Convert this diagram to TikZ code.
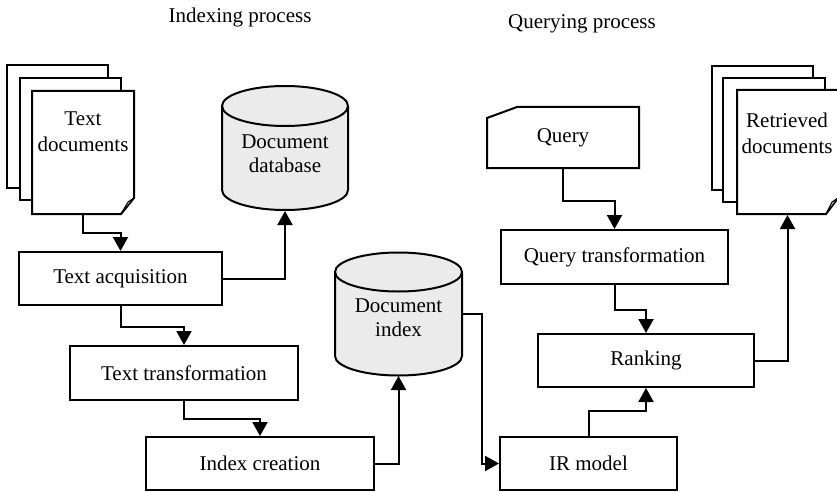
\documentclass[tikz,border=0pt]{standalone}
\usepackage{fontspec}
\setmainfont{Liberation Serif}
\usetikzlibrary{arrows.meta}
\definecolor{cylgray}{RGB}{235,235,235}
\definecolor{foldgray}{RGB}{190,190,190}
\begin{document}
\begin{tikzpicture}[x=1pt,y=-1pt,
  line width=2pt,
  every node/.style={font=\fontsize{21}{26}\selectfont},
  box/.style={draw, fill=white, rectangle, inner sep=0pt},
  ghost/.style={rectangle, inner sep=0pt},
  lbl/.style={align=center, inner sep=0pt},
  conn/.style={-{Triangle[length=14pt,width=15pt]}},
  page/.style={draw, fill=white},
  fold/.style={draw, fill=foldgray, line width=1pt, line join=round},
  cyl/.style={draw, fill=cylgray}
]
\useasboundingbox (0,0) rectangle (837,492);

% section titles
\node (ttlidx) at (240,17) {Indexing process};
\node (ttlqry) at (582,24) {Querying process};

% stack of text documents
\filldraw[page] (7,65) rectangle (108,188);
\filldraw[page] (20,78) rectangle (121,200);
\filldraw[page] (32,91) -- (134,91) -- (134,198) -- (121,214) -- (32,214) -- cycle;
\filldraw[fold] (134,198) -- (128,202) -- (121,214) -- cycle;
\node[ghost, minimum width=102pt, minimum height=123pt] (docs) at (83,152.5) {};
\node[lbl] (docslbl) at (83,131.5) {Text\\documents};

% document database
\filldraw[cyl] (222,106) -- (222,190)
  arc[start angle=180, end angle=360, x radius=63pt, y radius=20pt] -- (348,106)
  arc[start angle=0, end angle=180, x radius=63pt, y radius=20pt] -- cycle;
\draw (222,106) arc[start angle=180, end angle=360, x radius=63pt, y radius=20pt];
\node[ghost, minimum width=126pt, minimum height=124pt] (db) at (285,148) {};
\node[lbl, font=\fontsize{21}{24}\selectfont] (dblbl) at (285,154) {Document\\database};

% document index
\filldraw[cyl] (335,272) -- (335,356)
  arc[start angle=180, end angle=360, x radius=63.5pt, y radius=19.5pt] -- (462,272)
  arc[start angle=0, end angle=180, x radius=63.5pt, y radius=19.5pt] -- cycle;
\draw (335,272) arc[start angle=180, end angle=360, x radius=63.5pt, y radius=19.5pt];
\node[ghost, minimum width=127pt, minimum height=122pt] (dbidx) at (398.5,314) {};
\node[lbl, font=\fontsize{21}{24}\selectfont] (dbidxlbl) at (398.5,318) {Document\\index};

% query card
\filldraw[page] (517,107) -- (639,107) -- (639,168) -- (487,168) -- (487,118) -- cycle;
\node[ghost, minimum width=152pt, minimum height=61pt] (query) at (563,137.5) {Query};

% stack of retrieved documents
\filldraw[page] (712,66) rectangle (813,190);
\filldraw[page] (723,78) rectangle (825,202);
\filldraw[page] (737,90) -- (838,90) -- (838,198) -- (826,214) -- (737,214) -- cycle;
\filldraw[fold] (838,198) -- (832,202) -- (826,214) -- cycle;
\node[ghost, minimum width=101pt, minimum height=124pt] (retr) at (787.5,152) {};
\node[lbl] (retrlbl) at (787,133.5) {Retrieved\\documents};

% process boxes
\node[box, minimum width=203pt, minimum height=53pt] (acq) at (120.5,278.5) {Text acquisition};
\node[box, minimum width=228pt, minimum height=54pt] (trans) at (184,373) {Text transformation};
\node[box, minimum width=228pt, minimum height=53pt] (idx) at (260,463.5) {Index creation};
\node[box, minimum width=227pt, minimum height=54pt] (qtrans) at (614.5,257) {Query transformation};
\node[box, minimum width=216pt, minimum height=53pt] (rank) at (646,360.5) {Ranking};
\node[box, minimum width=177pt, minimum height=53pt] (ir) at (588.5,463.5) {IR model};

% connectors
\draw[conn] (docs.south) -- ++(0,18) -| (acq.north);
\draw[conn] (acq.south) -- ++(0,21) -| (trans.north);
\draw[conn] (trans.south) -- ++(0,18) -| (idx.north);
\draw[conn] (acq.east) -| (db.south);
\draw[conn] (idx.east) -| (dbidx.south);
\draw[conn] (dbidx.east) -- ++(19,0) |- (ir.west);
\draw[conn] (query.south) -- ++(0,32) -| (qtrans.north);
\draw[conn] (qtrans.south) -- ++(0,25) -| (rank.north);
\draw[conn] (ir.north) -- ++(0,-25) -| (rank.south);
\draw[conn] (rank.east) -| (retr.south);
\end{tikzpicture}
\end{document}
